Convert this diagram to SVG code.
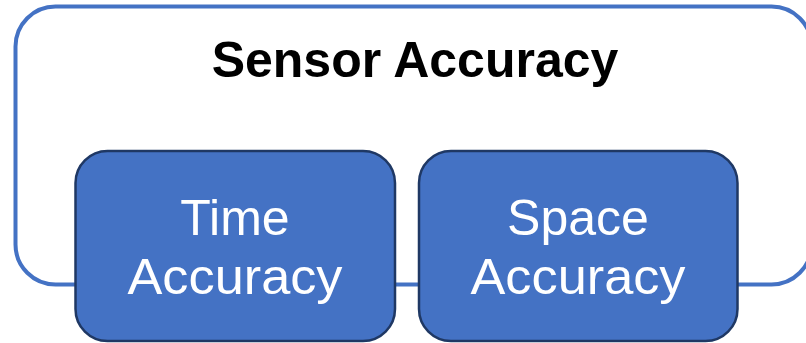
<svg xmlns="http://www.w3.org/2000/svg" width="806" height="343" viewBox="0 0 806 343">
<style>
.box{fill:#4472C4;stroke:#1F3864;stroke-width:2.5}
.lbl{font-family:"Liberation Sans",Arial,sans-serif;font-size:50px;fill:#FFFFFF;text-anchor:middle}
.title{font-family:"Liberation Sans",Arial,sans-serif;font-size:50px;font-weight:bold;fill:#000000;text-anchor:middle}
</style>
<rect width="806" height="343" fill="#FFFFFF"/>
<g id="sensor-accuracy">
<rect x="15.5" y="6.5" width="796" height="278" rx="40" ry="40" fill="none" stroke="#4472C4" stroke-width="4"/>
<text class="title" x="415" y="77">Sensor Accuracy</text>
</g>
<g id="connectors"></g>
<g id="time-accuracy">
<rect class="box" x="75.5" y="151" width="319.5" height="190" rx="32" ry="32"/>
<text class="lbl" x="235" y="235">Time</text>
<text class="lbl" x="235" y="294" textLength="215" lengthAdjust="spacingAndGlyphs">Accuracy</text>
</g>
<g id="space-accuracy">
<rect class="box" x="419" y="151" width="318.5" height="190" rx="32" ry="32"/>
<text class="lbl" x="578" y="235">Space</text>
<text class="lbl" x="578" y="294" textLength="215" lengthAdjust="spacingAndGlyphs">Accuracy</text>
</g>
</svg>
